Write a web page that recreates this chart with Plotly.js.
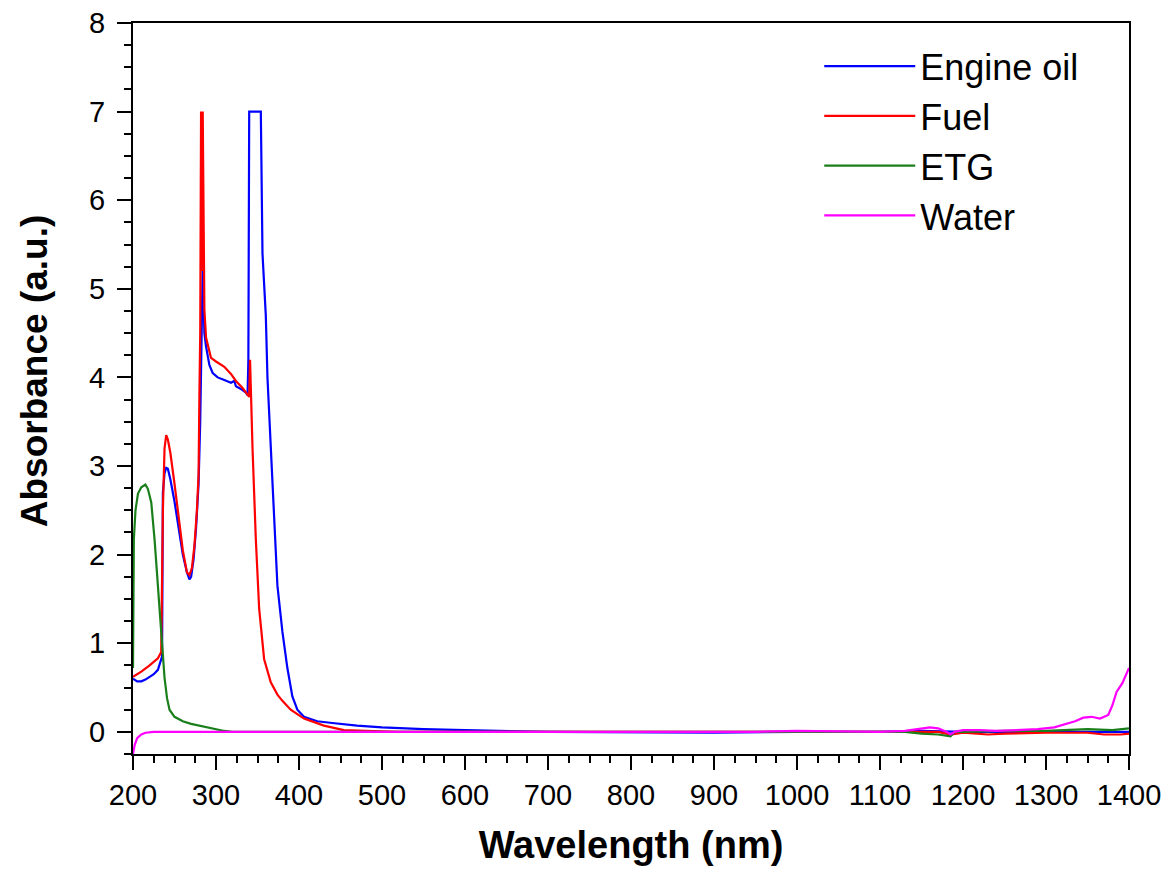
<!DOCTYPE html>
<html>
<head>
<meta charset="utf-8">
<script src="https://cdn.plot.ly/plotly-3.0.1.min.js"></script>
<style>html,body{margin:0;padding:0;background:#fff;}#chart{width:1175px;height:880px;}</style>
</head>
<body>
<div id="chart"></div>
<script>
// Engine oil
const oilWl = [200,205,210,215,220,225,230,233,235,236,238,240,242,245,250,255,260,265,268,270,273,276,279,281,283,284,285,286,288,292,296,302,310,318,322,324,330,336,338,339,340,354,356,360,362,366,370,374,380,386,392,398,406,422,440,470,500,550,600,640,700,900,1000,1100,1150,1200,1300,1400];
const oilAbs = [0.60,0.57,0.57,0.59,0.62,0.65,0.70,0.78,0.85,2.70,2.92,2.98,2.97,2.85,2.60,2.30,2.00,1.80,1.72,1.75,1.95,2.30,2.80,3.50,4.50,5.25,4.90,4.50,4.35,4.14,4.05,4.00,3.97,3.94,3.96,3.90,3.87,3.83,3.80,4.20,7.00,7.00,5.40,4.70,4.00,3.20,2.40,1.65,1.13,0.72,0.40,0.25,0.17,0.12,0.10,0.07,0.05,0.03,0.02,0.01,0.00,-0.01,0.00,0.00,0.01,0.00,0.00,0.00];
// Fuel
const fuelWl = [200,210,220,230,234,236,238,240,242,245,250,255,260,265,268,271,274,277,279,280,281,282,283,284,285,286,288,290,294,300,310,318,324,332,340,341,342,344,348,352,358,366,374,380,390,406,430,454,480,520,600,900,1100,1170,1185,1200,1230,1250,1300,1350,1370,1390,1400];
const fuelAbs = [0.62,0.68,0.75,0.83,0.90,2.50,3.20,3.35,3.30,3.15,2.80,2.40,2.05,1.80,1.77,1.85,2.10,2.50,2.90,3.80,4.50,7.00,5.20,7.00,5.00,4.77,4.45,4.38,4.22,4.18,4.12,4.04,3.96,3.88,3.78,4.20,3.80,3.20,2.17,1.39,0.82,0.56,0.42,0.35,0.25,0.15,0.07,0.02,0.01,0.00,0.00,0.00,0.00,0.00,-0.03,-0.01,-0.03,-0.02,-0.01,-0.01,-0.03,-0.03,-0.02];
// ETG
const etgWl = [200,201,203,206,210,215,218,222,226,230,234,238,241,244,250,260,270,290,310,320,600,1100,1130,1150,1170,1185,1190,1200,1250,1300,1350,1380,1400];
const etgAbs = [0.72,2.17,2.50,2.69,2.76,2.79,2.74,2.59,2.17,1.65,1.13,0.61,0.38,0.25,0.17,0.12,0.09,0.05,0.01,0.00,0.00,0.00,0.00,-0.02,-0.03,-0.05,0.00,0.00,0.01,0.01,0.03,0.02,0.04];
// Water
const waterWl = [200,202,205,210,215,225,600,950,1000,1100,1130,1145,1160,1170,1180,1185,1190,1200,1220,1240,1260,1290,1310,1320,1335,1345,1355,1365,1375,1380,1385,1392,1400];
const waterAbs = [-0.25,-0.15,-0.07,-0.03,-0.01,0.00,0.00,0.00,0.01,0.00,0.01,0.03,0.05,0.04,0.00,-0.03,0.00,0.02,0.02,0.01,0.02,0.03,0.05,0.08,0.12,0.16,0.17,0.15,0.19,0.30,0.45,0.55,0.72];

const seriesNames = ['Engine oil','Fuel','ETG','Water'];
const seriesColors = ['#0000ff','#ff0000','#1a7f1a','#ff00ff'];
const xs = [oilWl, fuelWl, etgWl, waterWl];
const ys = [oilAbs, fuelAbs, etgAbs, waterAbs];

const traces = seriesNames.map((n,i)=>({
  type:'scatter', mode:'lines', name:n, x:xs[i], y:ys[i],
  line:{color:seriesColors[i], width:2.2},
  legendgroup:'g'+i
}));

const xTickVals = [200,300,400,500,600,700,800,900,1000,1100,1200,1300,1400];
const yTickVals = [0,1,2,3,4,5,6,7,8];

const layout = {
  width:1175, height:880,
  margin:{l:133, r:46, t:23, b:126},
  paper_bgcolor:'#fff', plot_bgcolor:'#fff',
  font:{family:'Liberation Sans, Arial, sans-serif', color:'#000'},
  showlegend:true,
  legend:{x:0.689, y:0.982, xanchor:'left', yanchor:'top', font:{size:36, color:'#000'},
          bgcolor:'rgba(0,0,0,0)', itemwidth:91, tracegroupgap:0},
  xaxis:{range:[200,1400], tickvals:xTickVals, ticktext:xTickVals.map(String),
         ticks:'outside', ticklen:14, tickwidth:2, tickcolor:'#000',
         showline:true, linecolor:'#000', linewidth:2, mirror:true,
         showgrid:false, zeroline:false, tickfont:{size:29},
         minor:{dtick:25, ticks:'outside', ticklen:7, tickwidth:2, tickcolor:'#000', showgrid:false},
         title:{text:'<b>Wavelength (nm)</b>', font:{size:38}, standoff:22}},
  yaxis:{range:[-0.25,8], tickvals:yTickVals, ticktext:yTickVals.map(String),
         ticks:'outside', ticklen:14, tickwidth:2, tickcolor:'#000',
         showline:true, linecolor:'#000', linewidth:2, mirror:true,
         showgrid:false, zeroline:false, tickfont:{size:29}, ticklabelstandoff:6,
         minor:{dtick:0.25, ticks:'outside', ticklen:7, tickwidth:2, tickcolor:'#000', showgrid:false}},
  annotations:[{text:'<b>Absorbance (a.u.)</b>', xref:'paper', yref:'paper',
                x:-0.0994, y:0.525, xanchor:'center', yanchor:'middle', textangle:-90,
                showarrow:false, font:{size:37, color:'#000'}}]
};

Plotly.newPlot('chart', traces, layout, {displayModeBar:false, staticPlot:true});
</script>
</body>
</html>
